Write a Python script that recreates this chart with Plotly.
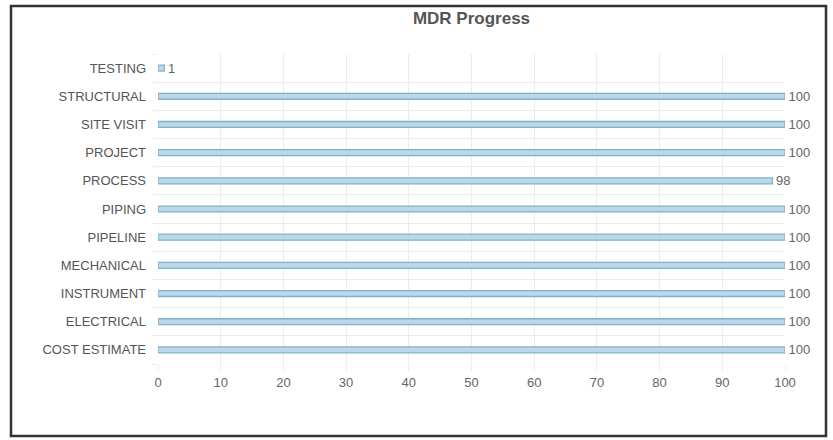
import plotly.graph_objects as go

categories = ["TESTING", "STRUCTURAL", "SITE VISIT", "PROJECT", "PROCESS", "PIPING",
              "PIPELINE", "MECHANICAL", "INSTRUMENT", "ELECTRICAL", "COST ESTIMATE"]
values = [1, 100, 100, 100, 98, 100, 100, 100, 100, 100, 100]
x_ticks = [0, 10, 20, 30, 40, 50, 60, 70, 80, 90, 100]

W, H = 833, 440
L, R, T, B = 158, 48, 54, 76
pw, ph = W - L - R, H - T - B

def px_to_paper_x(px):
    return (px - L) / pw

def px_to_paper_y(py):
    return (H - B - py) / ph

fig = go.Figure(go.Bar(
    x=values,
    y=categories,
    orientation="h",
    width=0.21,
    marker=dict(color="#bcd8e8", line=dict(color="#80b1cc", width=1.3)),
    texttemplate=" %{x}",
    textposition="outside",
    constraintext="none",
    textfont=dict(family="Liberation Sans, Arial, sans-serif", size=13, color="#666"),
    cliponaxis=False,
    hoverinfo="x+y",
))

fig.update_layout(
    width=W, height=H,
    margin=dict(l=L, r=R, t=T, b=B, pad=0),
    paper_bgcolor="white",
    plot_bgcolor="white",
    showlegend=False,
    title=dict(text="<b>MDR Progress</b>", x=0.5, xref="paper", y=1 - 18 / H, yanchor="middle",
               font=dict(family="Liberation Sans, Arial, sans-serif", size=17, color="#555")),
    font=dict(family="Liberation Sans, Arial, sans-serif", size=13, color="#666"),
    xaxis=dict(range=[0, 100], tickvals=x_ticks, showgrid=True, gridcolor="#ececec",
               zeroline=False, showline=False, ticks="outside", ticklen=6, tickcolor="#ececec",
               tickfont=dict(size=13, color="#666")),
    yaxis=dict(type="category", categoryorder="array", categoryarray=categories[::-1],
               tickson="boundaries", showgrid=True, gridcolor="#ececec", zeroline=False,
               showline=False, ticks="outside", ticklen=6, tickcolor="#ececec",
               ticklabelstandoff=11,
               tickfont=dict(size=13, color="#555")),
    shapes=[dict(type="rect", xref="paper", yref="paper",
                 x0=px_to_paper_x(11), x1=px_to_paper_x(826),
                 y0=px_to_paper_y(436), y1=px_to_paper_y(6),
                 line=dict(color="#333", width=2.5), fillcolor="rgba(0,0,0,0)", layer="above")],
)

fig.write_html("out.html",
               config={"displayModeBar": False},
               post_script="document.body.style.margin='0';document.body.style.overflow='hidden';")
